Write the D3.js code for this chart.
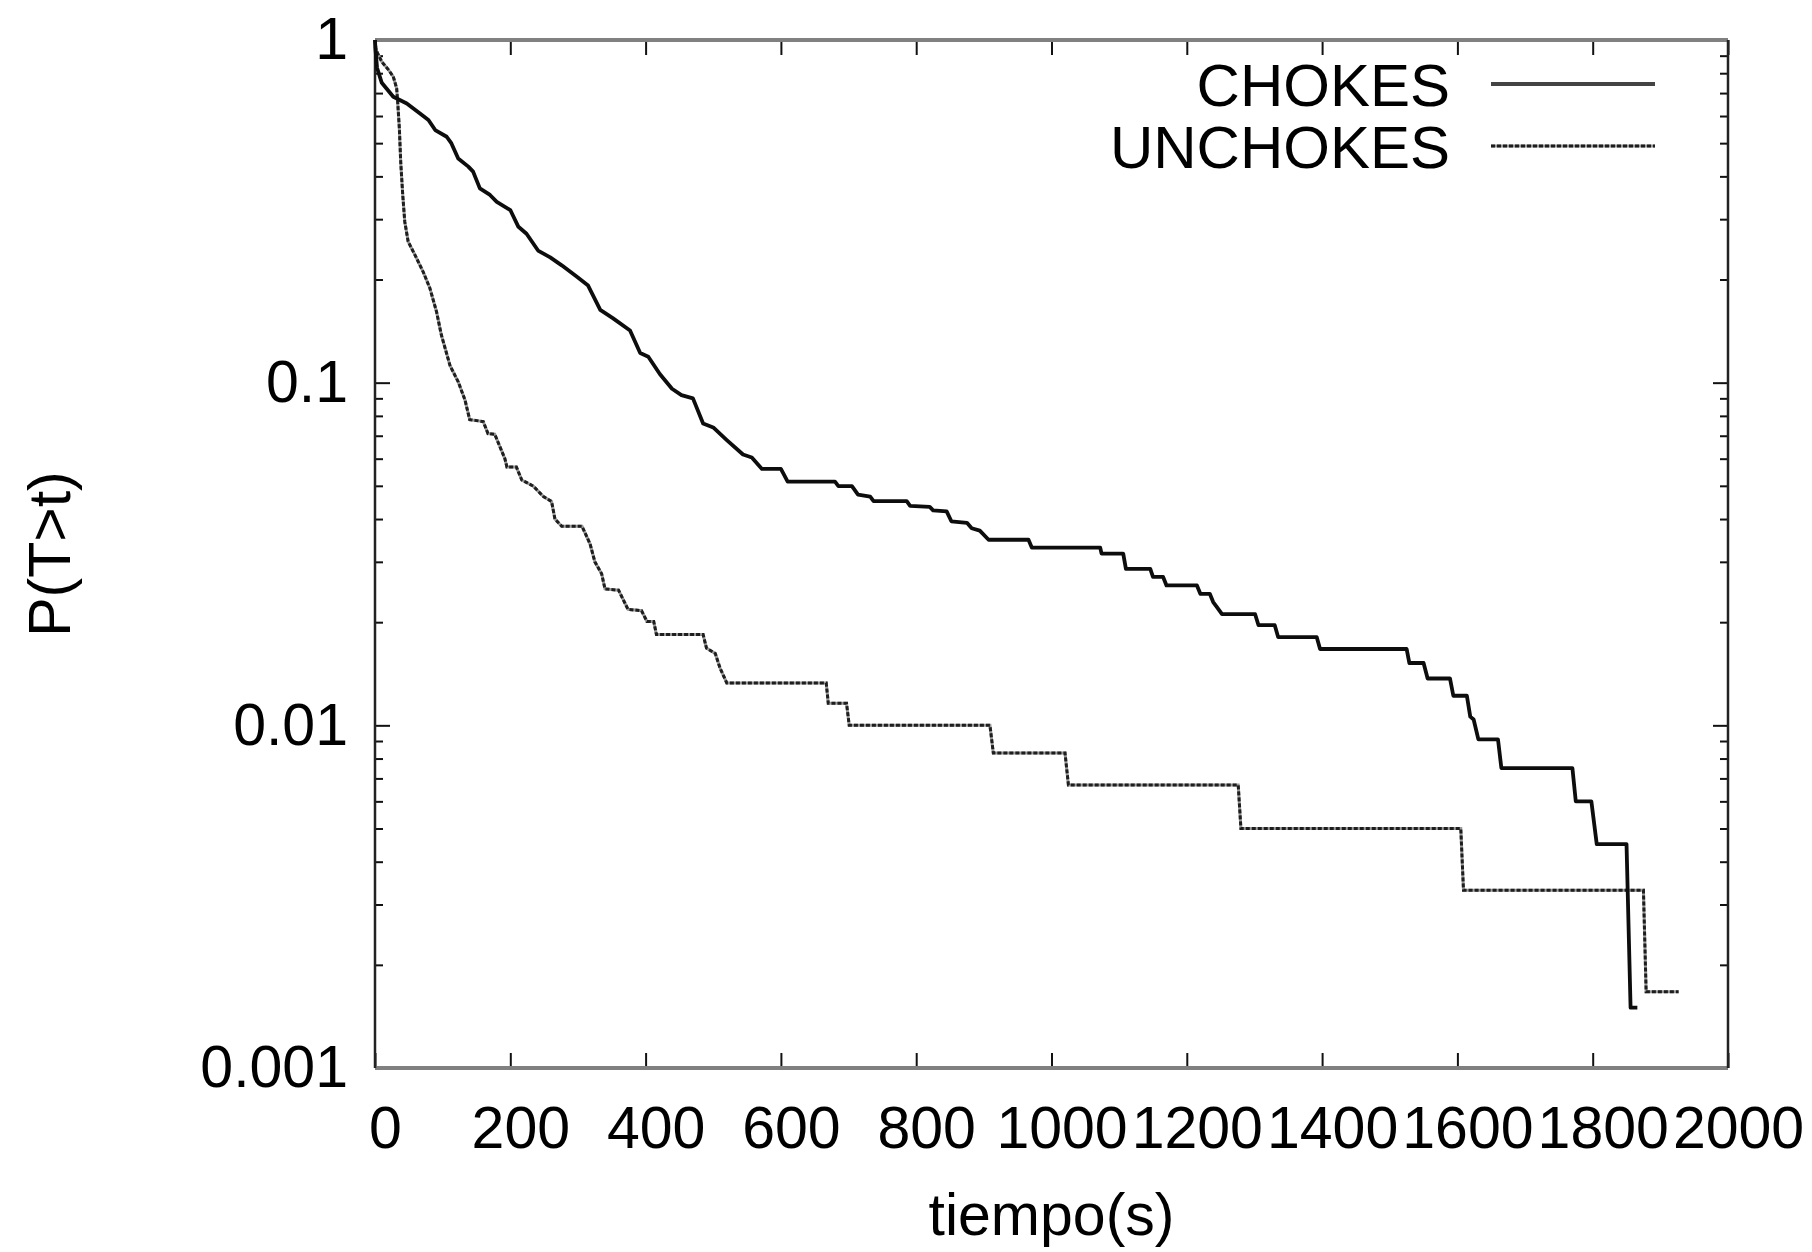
<!DOCTYPE html>
<html>
<head>
<meta charset="utf-8">
<script src="https://cdn.jsdelivr.net/npm/d3@7"></script>
<style>
  html, body { margin: 0; padding: 0; background: #fff; }
  svg { display: block; }
  .chart-text { font-family: 'Liberation Sans', Arial, Helvetica, sans-serif; fill: #000; }
</style>
</head>
<body>
<div id="chart"></div>
<script>
// CHOKES survival curve P(T>t) (time in s, probability)
const chokesT = [0, 0.5, 3, 10, 27, 47, 66, 79, 89, 106, 113, 123, 138, 145, 155, 170, 180, 200,
  212, 224, 241, 259, 276, 298, 315, 333, 352, 377, 392, 404, 421, 439, 453, 470, 485, 500,
  520, 544, 557, 572, 600, 610, 680, 685, 705, 714, 732, 737, 786, 791, 820, 825, 845, 852,
  875, 882, 894, 907, 966, 971, 1072, 1074, 1106, 1110, 1146, 1150, 1165, 1170, 1215, 1220,
  1234, 1239, 1244, 1252, 1301, 1306, 1330, 1335, 1392, 1397, 1525, 1529, 1550, 1556, 1589,
  1594, 1614, 1619, 1624, 1631, 1660, 1665, 1770, 1775, 1798, 1806, 1850, 1856, 1866];
const chokesP = [1, 0.95, 0.83, 0.75, 0.683, 0.653, 0.611, 0.584, 0.546, 0.522, 0.499, 0.451,
  0.427, 0.413, 0.369, 0.353, 0.337, 0.319, 0.285, 0.272, 0.243, 0.232, 0.22, 0.204, 0.192,
  0.163, 0.154, 0.142, 0.122, 0.119, 0.106, 0.096, 0.092, 0.09, 0.076, 0.074, 0.068, 0.0617,
  0.0605, 0.056, 0.056, 0.0514, 0.0514, 0.0499, 0.0499, 0.0471, 0.0465, 0.0451, 0.0451,
  0.0437, 0.0434, 0.0424, 0.0421, 0.0394, 0.039, 0.0376, 0.037, 0.0348, 0.0348, 0.033, 0.033,
  0.0317, 0.0317, 0.0286, 0.0286, 0.0271, 0.0271, 0.0256, 0.0256, 0.0242, 0.0242, 0.0229,
  0.0222, 0.0211, 0.0211, 0.0196, 0.0196, 0.0181, 0.0181, 0.0167, 0.0167, 0.0152, 0.0152,
  0.0137, 0.0137, 0.0122, 0.0122, 0.0106, 0.0104, 0.0091, 0.0091, 0.0075, 0.0075, 0.006,
  0.006, 0.0045, 0.0045, 0.0015, 0.0015];

// UNCHOKES survival curve
const unchokesT = [0, 1.5, 10, 20, 27, 32, 33.5, 36, 38, 41, 44, 49, 59, 71, 81, 91, 98, 111,
  123, 133, 140, 160, 167, 177, 192, 195, 209, 217, 234, 249, 261, 266, 276, 306, 318, 325,
  335, 340, 360, 374, 394, 402, 412, 416, 485, 490, 503, 510, 520, 667, 670, 697, 701, 909,
  914, 1020, 1025, 1276, 1280, 1605, 1609, 1875, 1879, 1927];
const unchokesP = [1, 0.935, 0.864, 0.818, 0.782, 0.723, 0.661, 0.552, 0.441, 0.353, 0.295,
  0.258, 0.236, 0.211, 0.189, 0.161, 0.138, 0.112, 0.1006, 0.089, 0.078, 0.077, 0.071,
  0.0707, 0.06, 0.0567, 0.0567, 0.052, 0.0499, 0.0465, 0.045, 0.04, 0.0381, 0.0381, 0.0338,
  0.03, 0.0277, 0.025, 0.0248, 0.0218, 0.0216, 0.0201, 0.0201, 0.0184, 0.0184, 0.0168,
  0.0162, 0.0147, 0.0133, 0.0133, 0.0116, 0.0116, 0.01, 0.01, 0.0083, 0.0083, 0.0067, 0.0067,
  0.005, 0.005, 0.0033, 0.0033, 0.00167, 0.00167];

const seriesNames = ['CHOKES', 'UNCHOKES'];
const xTicks = [0, 200, 400, 600, 800, 1000, 1200, 1400, 1600, 1800, 2000];
const yTicks = [0.001, 0.01, 0.1, 1];
const yTickLabels = ['0.001', '0.01', '0.1', '1'];

const FONT_SIZE = 59;
const MAJOR_TICK = 15;
const MINOR_TICK = 8;

const margin = { top: 40, right: 84, bottom: 184, left: 375 },
  outerWidth = 1812,
  outerHeight = 1252,
  width = outerWidth - margin.left - margin.right,
  height = outerHeight - margin.top - margin.bottom;

const svg = d3
  .select('#chart')
  .append('svg')
  .attr('width', outerWidth)
  .attr('height', outerHeight);

const g = svg
  .append('g')
  .attr('transform', 'translate(' + margin.left + ',' + margin.top + ')');

const x = d3.scaleLinear().domain([0, 2000]).range([0, width]);
const y = d3.scaleLog().domain([0.001, 1]).range([height, 0]);

// minor ticks on the log axis: everything d3 gives that isn't a decade
const yMinor = y.ticks().filter(v => yTicks.indexOf(v) < 0);

function tickMarks(axis, values, size, transform) {
  const a = g
    .append('g')
    .attr('transform', transform)
    .call(axis.tickValues(values).tickSize(size).tickFormat(''));
  a.select('.domain').remove();
  a.selectAll('.tick line').attr('stroke', '#111').attr('stroke-width', 2);
}

// x ticks point inward, bottom and top
tickMarks(d3.axisTop(x), xTicks, MAJOR_TICK, 'translate(0,' + height + ')');
tickMarks(d3.axisBottom(x), xTicks, MAJOR_TICK, 'translate(0,0)');
// y ticks, left and right
tickMarks(d3.axisRight(y), yTicks, MAJOR_TICK, 'translate(0,0)');
tickMarks(d3.axisRight(y), yMinor, MINOR_TICK, 'translate(0,0)');
tickMarks(d3.axisLeft(y), yTicks, MAJOR_TICK, 'translate(' + width + ',0)');
tickMarks(d3.axisLeft(y), yMinor, MINOR_TICK, 'translate(' + width + ',0)');

// tick labels
const xLabels = g
  .append('g')
  .attr('transform', 'translate(0,' + height + ')')
  .call(d3.axisBottom(x).tickValues(xTicks).tickSize(0).tickPadding(0).tickFormat(d3.format('d')));
xLabels.select('.domain').remove();
xLabels
  .selectAll('text')
  .attr('class', 'chart-text')
  .attr('font-size', FONT_SIZE)
  .attr('dy', null)
  .attr('y', 80)
  .attr('x', 10);

const yLabels = g
  .append('g')
  .call(d3.axisLeft(y).tickValues(yTicks).tickSize(0).tickPadding(27).tickFormat((d, i) => yTickLabels[i]));
yLabels.select('.domain').remove();
yLabels
  .selectAll('text')
  .attr('class', 'chart-text')
  .attr('font-size', FONT_SIZE);

// frame
const frame = g.append('g');
frame.append('line').attr('x1', 0).attr('x2', width).attr('y1', 0).attr('y2', 0)
  .attr('stroke', '#808080').attr('stroke-width', 4);
frame.append('line').attr('x1', 0).attr('x2', width).attr('y1', height).attr('y2', height)
  .attr('stroke', '#808080').attr('stroke-width', 4);
frame.append('line').attr('x1', 0).attr('x2', 0).attr('y1', 0).attr('y2', height)
  .attr('stroke', '#222').attr('stroke-width', 2.5);
frame.append('line').attr('x1', width).attr('x2', width).attr('y1', 0).attr('y2', height)
  .attr('stroke', '#222').attr('stroke-width', 2.5);

// curves
const line = d3
  .line()
  .x(d => x(d[0]))
  .y(d => y(d[1]));

const chokes = chokesT.map((t, i) => [t, chokesP[i]]);
const unchokes = unchokesT.map((t, i) => [t, unchokesP[i]]);

const plot = g.append('g');

plot
  .append('path')
  .datum(unchokes)
  .attr('d', line)
  .attr('fill', 'none')
  .attr('stroke', '#9a9a9a')
  .attr('stroke-width', 3);
plot
  .append('path')
  .datum(unchokes)
  .attr('d', line)
  .attr('fill', 'none')
  .attr('stroke', '#1e1e1e')
  .attr('stroke-width', 3)
  .attr('stroke-dasharray', '4,2');

plot
  .append('path')
  .datum(chokes)
  .attr('d', line)
  .attr('fill', 'none')
  .attr('stroke', '#0d0d0d')
  .attr('stroke-width', 3.8)
  .attr('stroke-linejoin', 'round');

// legend
const legendY = [84, 146];
const legend = svg.append('g');
seriesNames.forEach((name, i) => {
  legend
    .append('text')
    .attr('class', 'chart-text')
    .attr('font-size', FONT_SIZE + 1)
    .attr('text-anchor', 'end')
    .attr('x', 1450)
    .attr('y', legendY[i])
    .attr('dy', '0.36em')
    .text(name);
  if (i === 0) {
    legend.append('line')
      .attr('x1', 1491).attr('x2', 1655).attr('y1', legendY[i]).attr('y2', legendY[i])
      .attr('stroke', '#444').attr('stroke-width', 3.8);
  } else {
    legend.append('line')
      .attr('x1', 1491).attr('x2', 1655).attr('y1', legendY[i]).attr('y2', legendY[i])
      .attr('stroke', '#9a9a9a').attr('stroke-width', 3);
    legend.append('line')
      .attr('x1', 1491).attr('x2', 1655).attr('y1', legendY[i]).attr('y2', legendY[i])
      .attr('stroke', '#1e1e1e').attr('stroke-width', 3).attr('stroke-dasharray', '4,2');
  }
});

// axis titles
svg
  .append('text')
  .attr('class', 'chart-text')
  .attr('font-size', FONT_SIZE)
  .attr('text-anchor', 'middle')
  .attr('x', margin.left + width / 2)
  .attr('y', 1235)
  .text('tiempo(s)');

svg
  .append('text')
  .attr('class', 'chart-text')
  .attr('font-size', FONT_SIZE)
  .attr('text-anchor', 'middle')
  .attr('transform', 'translate(70,' + (margin.top + height / 2) + ') rotate(-90)')
  .text('P(T>t)');
</script>
</body>
</html>
